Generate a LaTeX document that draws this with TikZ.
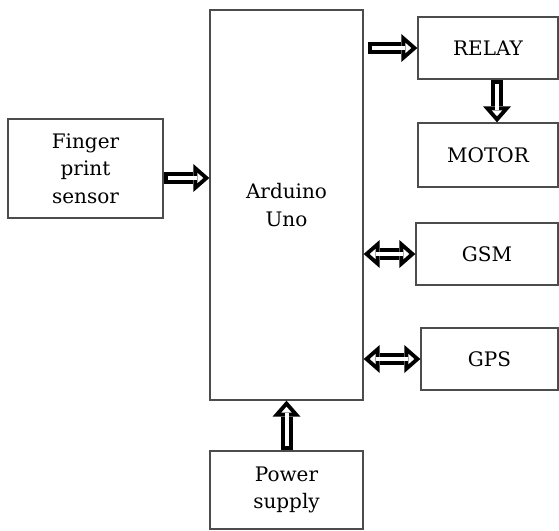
\documentclass[tikz,border=0pt]{standalone}
\usepackage{fontspec}
\setmainfont{DejaVu Serif}
\usetikzlibrary{arrows.meta}

\tikzset{
  block/.style={draw=black!70, line width=1.3pt, align=center,
    text=black, font=\fontsize{20}{27.5}\selectfont, inner sep=0pt},
  bigtip/.tip={Triangle[length=16pt,width=28pt,line width=0pt]},
  smalltip/.tip={Triangle[length=5.9pt,width=10.4pt,line width=0pt]},
  fatarrow/.style={line width=12pt, -{bigtip},
    postaction={draw=white, line width=4pt, shorten <=4pt, shorten >=6.1pt, -{smalltip}}},
  fatboth/.style={line width=12pt, {bigtip}-{bigtip},
    postaction={draw=white, line width=4pt, shorten <=6.1pt, shorten >=6.1pt, {smalltip}-{smalltip}}},
}

\begin{document}
\begin{tikzpicture}[x=1pt, y=-1pt]
        \useasboundingbox (0,0) rectangle (559,530);

        % Draw the controller in the middle
        \node[block, minimum width=153pt, minimum height=390pt] (arduino) at (286.5,205) {Arduino\\Uno};

        % Draw the input blocks
        \node[block, minimum width=155pt, minimum height=99pt] (finger) at (85.5,168.5) {Finger\\print\\sensor};
        \node[block, minimum width=153pt, minimum height=78pt] (power) at (286.5,490) {Power\\supply};

        % Draw the output blocks on the right
        \node[block, minimum width=140pt, minimum height=62pt] (relay) at (488,48) {RELAY};
        \node[block, minimum width=140pt, minimum height=64pt] (motor) at (488,155) {MOTOR};
        \node[block, minimum width=142pt, minimum height=62pt] (gsm) at (487,254) {GSM};
        \node[block, minimum width=137pt, minimum height=62pt] (gps) at (489.5,359) {GPS};

        % Heights of the arrows (for reference)
        \coordinate (fin) at (0,178);
        \coordinate (rm) at (497,0);

        % Draw the one way arrows
        \draw[fatarrow] (finger.east |- fin) -- (arduino.west |- fin);
        \draw[fatarrow] ([xshift=4pt]arduino.east |- relay) -- (relay.west);
        \draw[fatarrow] (relay.south -| rm) -- (motor.north -| rm);
        \draw[fatarrow] (power.north) -- (arduino.south);

        % Draw the two way arrows
        \draw[fatboth] (arduino.east |- gsm) -- (gsm.west);
        \draw[fatboth] (arduino.east |- gps) -- (gps.west);
    \end{tikzpicture}
\end{document}
